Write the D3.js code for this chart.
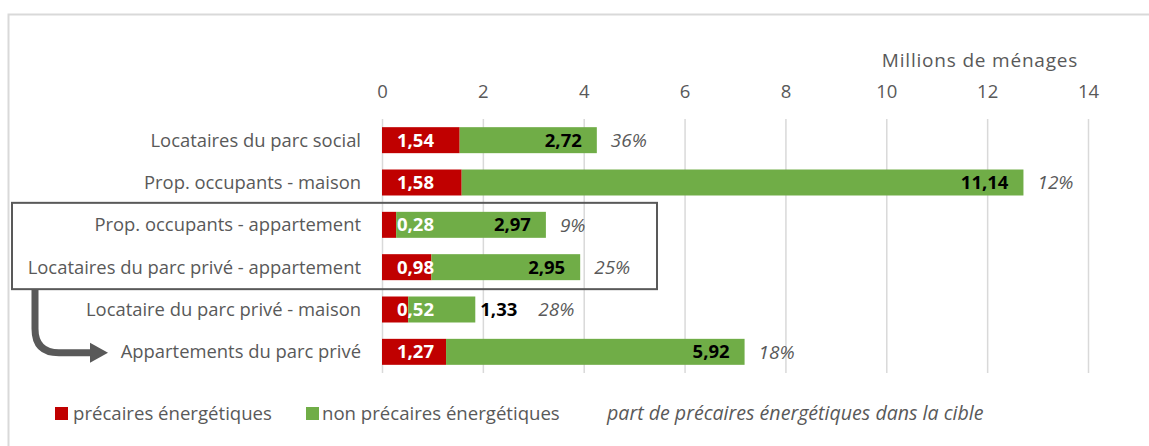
<!DOCTYPE html>
<html>
<head>
  <meta charset="utf-8">
  <title>precarite</title>
  <script src="https://d3js.org/d3.v7.min.js"></script>
  <style>
    body { margin: 0; background: #fff; }
    svg text { font-family: "Open Sans", "Liberation Sans", sans-serif; }
  </style>
</head>
<body>
  <div id="chart"></div>
  <script>
    // données (millions de ménages)
    var categories = [
      "Locataires du parc social",
      "Prop. occupants - maison",
      "Prop. occupants - appartement",
      "Locataires du parc privé - appartement",
      "Locataire du parc privé - maison",
      "Appartements du parc privé"
    ];
    var precaires = [1.54, 1.58, 0.28, 0.98, 0.52, 1.27];
    var nonPrecaires = [2.72, 11.14, 2.97, 2.95, 1.33, 5.92];
    var parts = ["36%", "12%", "9%", "25%", "28%", "18%"];
    var ticks = [0, 2, 4, 6, 8, 10, 12, 14];
    var legendLabels = ["précaires énergétiques", "non précaires énergétiques", "part de précaires énergétiques dans la cible"];

    var W = 1149, H = 446;
    var red = "#C00000", green = "#70AD47", grey = "#595959";

    var svg = d3.select("#chart").append("svg")
      .attr("width", W)
      .attr("height", H);

    // cadre
    svg.append("rect")
      .attr("x", 8.5).attr("y", 14.5)
      .attr("width", 1300).attr("height", 600)
      .attr("fill", "none")
      .attr("stroke", "#d9d9d9")
      .attr("stroke-width", 2);

    var x = d3.scaleLinear().domain([0, 14]).range([382, 1088]);
    var y = d3.scaleBand().domain(categories).range([119, 373]).paddingInner(0.386).paddingOuter(0.193);

    // grille
    svg.append("g")
      .selectAll("line")
      .data(ticks)
      .enter().append("line")
      .attr("x1", function (d) { return x(d) + 0.5; })
      .attr("x2", function (d) { return x(d) + 0.5; })
      .attr("y1", 119).attr("y2", 373)
      .attr("stroke", "#d9d9d9")
      .attr("stroke-width", 1.5);

    // axe du haut
    var axis = svg.append("g")
      .attr("transform", "translate(0,98)")
      .call(d3.axisTop(x).tickValues(ticks).tickSize(0).tickPadding(0));
    axis.select(".domain").remove();
    axis.selectAll("text")
      .attr("fill", grey)
      .attr("font-size", 18.5)
      .attr("dy", 0);

    svg.append("text")
      .attr("x", 980).attr("y", 67)
      .attr("text-anchor", "middle")
      .attr("fill", grey)
      .attr("font-size", 19)
      .attr("letter-spacing", 0.8)
      .text("Millions de ménages");

    // libellés des catégories
    svg.append("g")
      .selectAll("text")
      .data(categories)
      .enter().append("text")
      .attr("x", 361)
      .attr("y", function (d) { return y(d) + y.bandwidth() / 2; })
      .attr("dy", "0.35em")
      .attr("text-anchor", "end")
      .attr("fill", grey)
      .attr("font-size", 18.4)
      .text(function (d) { return d; });

    var fmt = function (v) { return v.toFixed(2).replace(".", ","); };

    var rows = categories.map(function (c, i) {
      return { cat: c, p: precaires[i], n: nonPrecaires[i], part: parts[i] };
    });

    var g = svg.append("g")
      .selectAll("g")
      .data(rows)
      .enter().append("g");

    g.append("rect")
      .attr("x", x(0))
      .attr("y", function (d) { return y(d.cat); })
      .attr("width", function (d) { return x(d.p) - x(0); })
      .attr("height", y.bandwidth())
      .attr("fill", red);

    g.append("rect")
      .attr("x", function (d) { return x(d.p); })
      .attr("y", function (d) { return y(d.cat); })
      .attr("width", function (d) { return x(d.p + d.n) - x(d.p); })
      .attr("height", y.bandwidth())
      .attr("fill", green);

    // valeurs précaires
    g.append("text")
      .attr("x", x(0) + 15)
      .attr("y", function (d) { return y(d.cat) + y.bandwidth() / 2; })
      .attr("dy", "0.36em")
      .attr("fill", "#fff")
      .attr("font-weight", "bold")
      .attr("font-size", 18.5)
      .text(function (d) { return fmt(d.p); });

    // valeurs non précaires + part
    g.each(function (d) {
      var sel = d3.select(this);
      var end = x(d.p + d.n);
      var outside = (end - x(d.p)) < 100;
      var t = sel.append("text")
        .attr("y", y(d.cat) + y.bandwidth() / 2)
        .attr("dy", "0.36em")
        .attr("fill", "#000")
        .attr("font-weight", "bold")
        .attr("font-size", 18.5)
        .text(fmt(d.n));
      var pctX;
      if (outside) {
        t.attr("x", end + 5).attr("text-anchor", "start");
        pctX = end + 5 + t.node().getComputedTextLength() + 21;
      } else {
        t.attr("x", end - 15).attr("text-anchor", "end");
        pctX = end + 14;
      }
      sel.append("text")
        .attr("x", pctX)
        .attr("y", y(d.cat) + y.bandwidth() / 2)
        .attr("dy", "0.36em")
        .attr("fill", grey)
        .attr("font-style", "italic")
        .attr("font-size", 19)
        .text(d.part);
    });

    // encadré + flèche
    var boxTop = y(categories[2]) - 9, boxBot = y(categories[3]) + y.bandwidth() + 9;
    svg.append("rect")
      .attr("x", 12).attr("y", boxTop)
      .attr("width", 645).attr("height", boxBot - boxTop)
      .attr("fill", "none")
      .attr("stroke", grey)
      .attr("stroke-width", 2);

    var ay = y(categories[5]) + y.bandwidth() / 2 + 1;
    svg.append("path")
      .attr("d", "M35," + boxBot + " V" + (ay - 24) + " Q35," + ay + " 59," + ay + " H92")
      .attr("fill", "none")
      .attr("stroke", grey)
      .attr("stroke-width", 7);
    svg.append("path")
      .attr("d", "M90," + (ay - 10) + " L108," + ay + " L90," + (ay + 10) + " Z")
      .attr("fill", grey);

    // légende
    var leg = svg.append("g");
    leg.append("rect").attr("x", 55).attr("y", 407).attr("width", 13).attr("height", 13).attr("fill", red);
    leg.append("text").attr("x", 73).attr("y", 420).attr("fill", grey).attr("font-size", 18.6).text(legendLabels[0]);
    leg.append("rect").attr("x", 306).attr("y", 407).attr("width", 13).attr("height", 13).attr("fill", green);
    leg.append("text").attr("x", 322).attr("y", 420).attr("fill", grey).attr("font-size", 18.6).text(legendLabels[1]);
    leg.append("text").attr("x", 607).attr("y", 420).attr("fill", grey).attr("font-size", 19.6)
      .attr("font-style", "italic").text(legendLabels[2]);
  </script>
</body>
</html>
